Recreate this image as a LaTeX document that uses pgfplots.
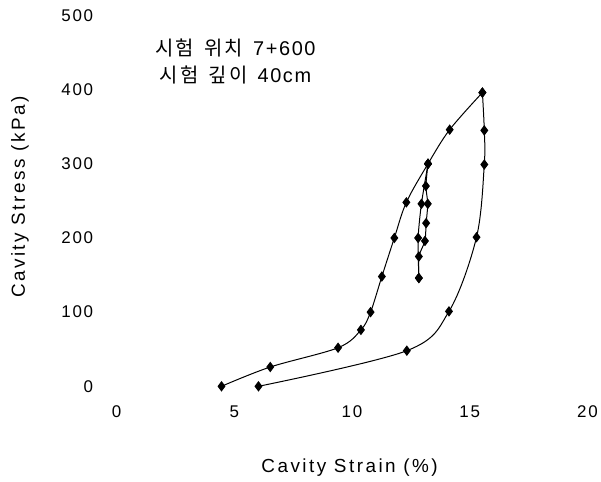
\documentclass[border=0pt]{standalone}
\usepackage{pgfplots}
\pgfplotsset{compat=1.18}
\usepackage{fontspec}
\setmainfont{Liberation Sans}
\newfontfamily\tickfont[LetterSpace=10]{Liberation Sans}
\newfontfamily\labfont[LetterSpace=13]{Liberation Sans}
\newfontfamily\annfont[LetterSpace=8]{Liberation Sans}
\newfontfamily\cjkf[LetterSpace=12]{Noto Sans CJK KR}
\newcommand\cjk{\cjkf\fontsize{20}{27}\selectfont}
\begin{document}
\begin{tikzpicture}
\path (0,0) rectangle (601pt,484pt);
\begin{axis}[
  at={(117pt,96pt)}, anchor=south west,
  scale only axis, width=473pt, height=372.5pt,
  xmin=0, xmax=20, ymin=0, ymax=500,
  xtick={0,5,10,15,20}, ytick={0,100,200,300,400,500},
  axis line style={draw=none}, major tick style={draw=none},
  /pgf/number format/assume math mode=true,
  tick label style={font=\tickfont\fontsize{17}{19}\selectfont},
  xticklabel shift=16pt, yticklabel shift=20pt,
  xlabel={Cavity Strain (\%)}, ylabel={Cavity Stress (kPa)},
  every axis x label/.style={at={([yshift=-82pt]axis description cs:0.495,0)}, anchor=center, font=\labfont\fontsize{19}{22}\selectfont},
  every axis y label/.style={at={([xshift=-97pt]axis description cs:0,0.51)}, anchor=center, rotate=90, font=\labfont\fontsize{19}{22}\selectfont},
  clip=false,
]
\addplot[black, line width=1pt, smooth, tension=0.55, mark=diamond*, mark size=4.5pt] coordinates {
(4.46,0)(6.53,26)(9.41,52)(10.38,76)(10.79,100)(11.27,148)(11.8,200)(12.31,248)(13.23,300)(14.15,346)(15.54,396)};
\addplot[black, line width=1pt, smooth, tension=0.55, mark=diamond*, mark size=4.5pt] coordinates {
(15.54,396)(15.62,345)(15.62,299)(15.29,201)(14.12,101)(12.33,48)(6.03,0)};
\addplot[black, line width=1pt, smooth, tension=0.4, mark=diamond*, mark size=4.5pt] coordinates {
(13.23,300)(13.14,270)(13.22,246)(13.15,220)(13.1,196)(12.84,175)(12.84,146)};
\addplot[black, line width=1pt, smooth, tension=0.4, mark=diamond*, mark size=4.5pt] coordinates {
(12.84,146)(12.81,200)(12.95,246)(13.23,300)};
\node[font=\annfont\fontsize{20}{27}\selectfont, align=center] at (axis cs:5.05,438)
  {{\cjk 시험}\hspace{10pt}{\cjk 위치}\hspace{10pt}7+600\\{\cjk 시험}\hspace{10pt}{\cjk 깊이}\hspace{10pt}40cm};
\end{axis}
\end{tikzpicture}
\end{document}
